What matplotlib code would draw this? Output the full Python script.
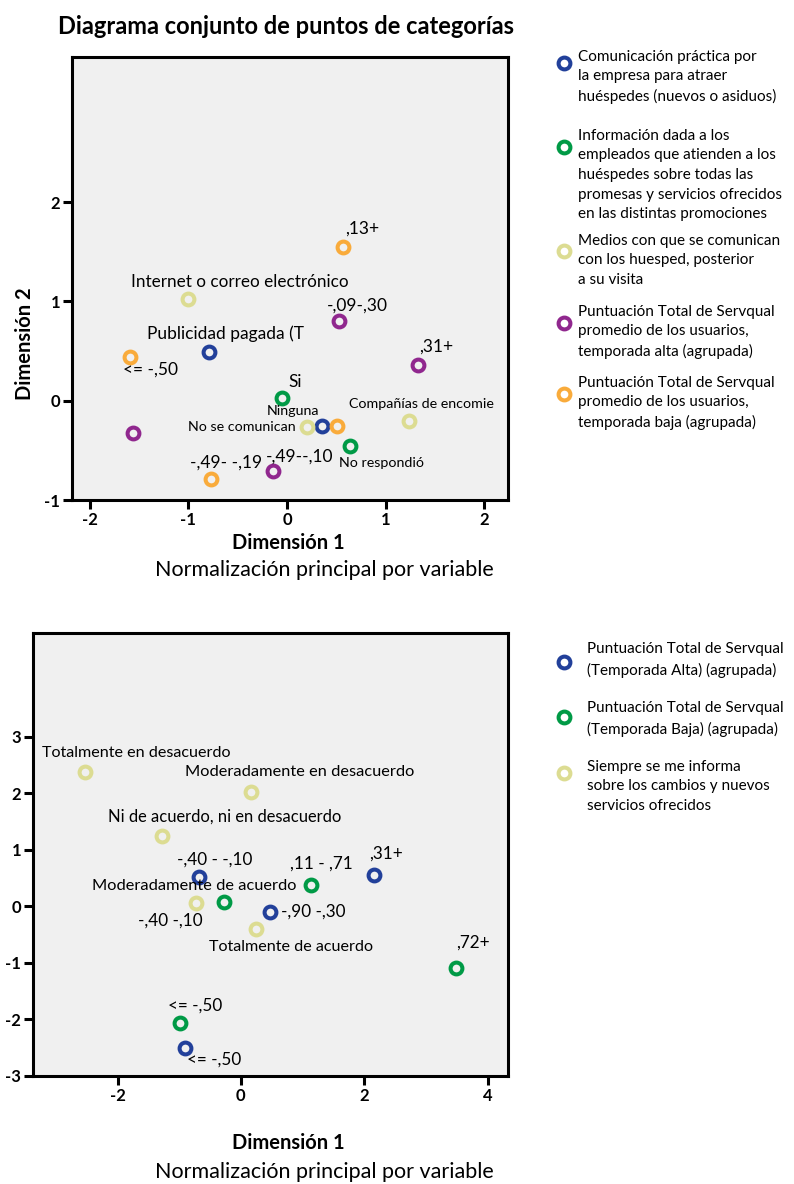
import matplotlib
matplotlib.use('Agg')
import matplotlib.pyplot as plt

plt.rcParams['font.family'] = ['Lato', 'DejaVu Sans']
plt.rcParams['axes.unicode_minus'] = False

W, H = 794, 1184

BLUE = '#22409a'
GREEN = '#009a46'
KHAKI = '#dcdc92'
PURPLE = '#90278e'
ORANGE = '#f9ab3b'

# --- top chart: five variables ---
comunicacion_x = [-0.79, 0.35]
comunicacion_y = [0.49, -0.25]
comunicacion_lab = ['Publicidad pagada (T', 'Ninguna']

informacion_x = [-0.05, 0.64]
informacion_y = [0.03, -0.46]
informacion_lab = ['Si', 'No respondió']

medios_x = [-1.00, 0.20, 1.24]
medios_y = [1.02, -0.27, -0.20]
medios_lab = ['Internet o correo electrónico', 'No se comunican', 'Compañías de encomie']

alta_x = [0.53, 1.33, -1.56, -0.14]
alta_y = [0.80, 0.36, -0.33, -0.71]
alta_lab = ['-,09-,30', ',31+', '', '-,49--,10']

baja_x = [0.57, -1.59, -0.77, 0.51]
baja_y = [1.55, 0.44, -0.79, -0.25]
baja_lab = [',13+', '<= -,50', '-,49- -,19', '']

top_legend = [
    'Comunicación práctica por\nla empresa para atraer\nhuéspedes (nuevos o asiduos)',
    'Información dada a los\nempleados que atienden a los\nhuéspedes sobre todas las\n'
    'promesas y servicios ofrecidos\nen las distintas promociones',
    'Medios con que se comunican\ncon los huesped, posterior\na su visita',
    'Puntuación Total de Servqual\npromedio de los usuarios,\ntemporada alta (agrupada)',
    'Puntuación Total de Servqual\npromedio de los usuarios,\ntemporada baja (agrupada)',
]

# --- bottom chart: three variables ---
sta_x = [-0.68, 2.16, 0.47, -0.91]
sta_y = [0.52, 0.55, -0.09, -2.51]
sta_lab = ['-,40 - -,10', ',31+', '-,90 -,30', '<= -,50']

stb_x = [-0.28, 1.14, 3.49, -0.98]
stb_y = [0.08, 0.38, -1.08, -2.07]
stb_lab = ['-,40 -,10', ',11 - ,71', ',72+', '<= -,50']

siempre_x = [-2.52, 0.17, -1.28, -0.72, 0.25]
siempre_y = [2.38, 2.03, 1.25, 0.07, -0.40]
siempre_lab = ['Totalmente en desacuerdo', 'Moderadamente en desacuerdo',
               'Ni de acuerdo, ni en desacuerdo', 'Moderadamente de acuerdo',
               'Totalmente de acuerdo']

bottom_legend = [
    'Puntuación Total de Servqual\n(Temporada Alta) (agrupada)',
    'Puntuación Total de Servqual\n(Temporada Baja) (agrupada)',
    'Siempre se me informa\nsobre los cambios y nuevos\nservicios ofrecidos',
]

# label offsets in pixels and font size (layout only)
off_top = {
    'com': [(16, 18, 12.5), (-29, 15, 10.3)],
    'inf': [(13, 16, 12.5), (31, -17, 10.3)],
    'med': [(51, 17, 12.3), (-65, 0, 10.3), (12, 17, 10.3)],
    'alta': [(18, 16, 12.5), (18, 18, 12.5), (0, 0, 12.5), (26, 15, 12.5)],
    'baja': [(19, 18, 12.5), (20, -13, 12.5), (15, 17, 12.5), (0, 0, 12.5)],
}
off_bot = {
    'sta': [(16, 17, 12.3), (12, 22, 12.3), (43, 0, 12.3), (29, -11, 12.3)],
    'stb': [(-53, -19, 12.3), (10, 21, 12.3), (17, 25, 12.3), (15, 18, 12.3)],
    'siempre': [(51, 19, 11.6), (48, 20, 11.8), (63, 19, 11.9), (-2, 17, 11.8), (35, -18, 11.6)],
}


def px_axes(fig, left, top, right, bottom):
    return fig.add_axes([left / W, 1 - bottom / H, (right - left) / W, (bottom - top) / H])


def style(ax):
    ax.set_facecolor('#f0f0f0')
    for s in ax.spines.values():
        s.set_linewidth(2.2)
    ax.tick_params(width=2.2, length=6.5, labelsize=12, pad=2)
    for t in ax.get_xticklabels() + ax.get_yticklabels():
        t.set_fontweight('bold')


def ring(ax, x, y, color):
    ax.plot(x, y, 'o', ls='none', ms=8.5, mew=2.9, mfc='none', mec=color, zorder=3)


def labels(ax, xs, ys, labs, offs):
    for x, y, lab, o in zip(xs, ys, labs, offs):
        if not lab:
            continue
        ax.annotate(lab, (x, y), xytext=(o[0], o[1]), textcoords='offset pixels',
                    ha='center', va='center', fontsize=o[2], zorder=4)


fig = plt.figure(figsize=(W / 100, H / 100), dpi=100)
ov = fig.add_axes([0, 0, 1, 1])
ov.set_xlim(0, W)
ov.set_ylim(H, 0)
ov.axis('off')

# top chart
ax1 = px_axes(fig, 72, 57, 508, 500)
ax1.set_xlim(-2.18, 2.24)
ax1.set_ylim(-1.0, 3.46)
ax1.set_xticks([-2, -1, 0, 1, 2])
ax1.set_yticks([-1, 0, 1, 2])
style(ax1)
for xs, ys, c in [(comunicacion_x, comunicacion_y, BLUE), (informacion_x, informacion_y, GREEN),
                  (medios_x, medios_y, KHAKI), (alta_x, alta_y, PURPLE), (baja_x, baja_y, ORANGE)]:
    ring(ax1, xs, ys, c)
labels(ax1, comunicacion_x, comunicacion_y, comunicacion_lab, off_top['com'])
labels(ax1, informacion_x, informacion_y, informacion_lab, off_top['inf'])
labels(ax1, medios_x, medios_y, medios_lab, off_top['med'])
labels(ax1, alta_x, alta_y, alta_lab, off_top['alta'])
labels(ax1, baja_x, baja_y, baja_lab, off_top['baja'])

# bottom chart
ax2 = px_axes(fig, 33, 633, 508, 1076)
ax2.set_xlim(-3.37, 4.33)
ax2.set_ylim(-3.0, 4.84)
ax2.set_xticks([-2, 0, 2, 4])
ax2.set_yticks([-3, -2, -1, 0, 1, 2, 3])
style(ax2)
for xs, ys, c in [(sta_x, sta_y, BLUE), (stb_x, stb_y, GREEN), (siempre_x, siempre_y, KHAKI)]:
    ring(ax2, xs, ys, c)
labels(ax2, sta_x, sta_y, sta_lab, off_bot['sta'])
labels(ax2, stb_x, stb_y, stb_lab, off_bot['stb'])
labels(ax2, siempre_x, siempre_y, siempre_lab, off_bot['siempre'])

# titles and axis captions
ov.text(286, 26, 'Diagrama conjunto de puntos de categorías', ha='center', va='center',
        fontsize=17, fontweight='bold')
ov.text(25, 344, 'Dimensión 2', rotation=90, ha='center', va='center',
        fontsize=14.5, fontweight='bold')
ov.text(288, 543, 'Dimensión 1', ha='center', va='center', fontsize=14.5, fontweight='bold')
ov.text(324, 570, 'Normalización principal por variable', ha='center', va='center', fontsize=15.5)
ov.text(288, 1143, 'Dimensión 1', ha='center', va='center', fontsize=14.5, fontweight='bold')
ov.text(324, 1172, 'Normalización principal por variable', ha='center', va='center', fontsize=15.5)

# legends
top_marker_y = [63, 147, 251, 323, 394]
top_text_y = [77, 175, 260, 332, 403]
for lab, c, my, ty in zip(top_legend, [BLUE, GREEN, KHAKI, PURPLE, ORANGE], top_marker_y, top_text_y):
    ov.plot([564], [my], 'o', ms=8.5, mew=2.9, mfc='none', mec=c)
    ov.text(578, ty, lab, ha='left', va='center', fontsize=11, linespacing=1.5)

bot_marker_y = [662, 717, 773]
bot_text_y = [660, 719, 786]
for lab, c, my, ty in zip(bottom_legend, [BLUE, GREEN, KHAKI], bot_marker_y, bot_text_y):
    ov.plot([564], [my], 'o', ms=8.5, mew=2.9, mfc='none', mec=c)
    ov.text(587, ty, lab, ha='left', va='center', fontsize=11, linespacing=1.5)

fig.savefig('out.png', dpi=100)
